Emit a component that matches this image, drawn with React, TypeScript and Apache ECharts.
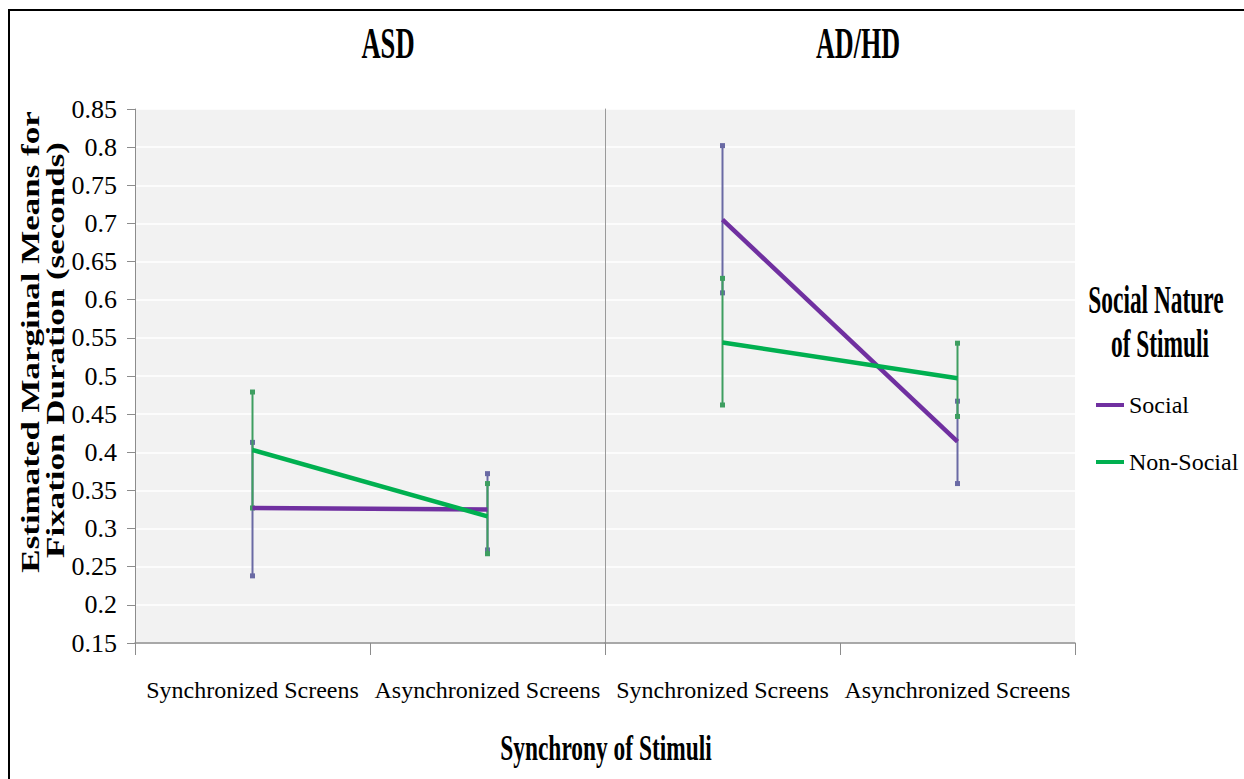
import React, { useEffect, useRef } from "react";
import * as echarts from "echarts";

// ---- data ----
const groups = ["ASD", "AD/HD"];
const conditions = ["Synchronized Screens", "Asynchronized Screens"];
const seriesNames = ["Social", "Non-Social"];
const yMin = 0.15;
const yMax = 0.85;
const yStep = 0.05;

const asdSocialMean = [0.327, 0.325];
const asdSocialLow = [0.238, 0.272];
const asdSocialHigh = [0.413, 0.372];
const asdNonSocialMean = [0.403, 0.316];
const asdNonSocialLow = [0.327, 0.267];
const asdNonSocialHigh = [0.479, 0.359];

const adhdSocialMean = [0.705, 0.414];
const adhdSocialLow = [0.609, 0.359];
const adhdSocialHigh = [0.802, 0.467];
const adhdNonSocialMean = [0.544, 0.497];
const adhdNonSocialLow = [0.462, 0.447];
const adhdNonSocialHigh = [0.628, 0.543];

// ---- styles ----
const FONT = '"Liberation Serif", "Times New Roman", serif';
const SOCIAL = "#7030A0";
const NONSOCIAL = "#00B050";
const SOCIAL_ERR = "#6A6AA4";
const NONSOCIAL_ERR = "#3E9E60";
const AXIS = "#8C8C8C";

function errData(low: number[], high: number[]) {
  return conditions.map((_, i) => [i, low[i], high[i]]);
}

function errorSeries(name: string, grid: number, low: number[], high: number[], color: string, z: number) {
  return {
    type: "custom",
    name,
    xAxisIndex: grid,
    yAxisIndex: grid,
    z,
    encode: { x: 0, y: [1, 2] },
    data: errData(low, high),
    renderItem: (params: any, api: any) => {
      const lo = api.coord([api.value(0), api.value(1)]);
      const hi = api.coord([api.value(0), api.value(2)]);
      const s = 5;
      return {
        type: "group",
        children: [
          {
            type: "line",
            shape: { x1: lo[0], y1: lo[1], x2: hi[0], y2: hi[1] },
            style: { stroke: color, lineWidth: 2 },
          },
          {
            type: "rect",
            shape: { x: hi[0] - s / 2, y: hi[1] - s / 2, width: s, height: s },
            style: { fill: color },
          },
          {
            type: "rect",
            shape: { x: lo[0] - s / 2, y: lo[1] - s / 2, width: s, height: s },
            style: { fill: color },
          },
        ],
      };
    },
  };
}

function lineSeries(name: string, grid: number, data: number[], color: string, z: number) {
  return {
    type: "line",
    name,
    xAxisIndex: grid,
    yAxisIndex: grid,
    z,
    data,
    symbol: "none",
    lineStyle: { color, width: 4.5 },
    itemStyle: { color },
  };
}

function buildOption() {
  const gridBase = { top: 109, width: 470, height: 534, show: true, backgroundColor: "#F2F2F2", borderWidth: 0 };
  const grids = [
    { ...gridBase, left: 135 },
    { ...gridBase, left: 605 },
  ];
  const xAxes = groups.map((_, i) => ({
    type: "category",
    gridIndex: i,
    data: conditions,
    boundaryGap: true,
    axisLine: { show: true, lineStyle: { color: AXIS, width: 1.5 } },
    axisTick: { show: true, length: 12, lineStyle: { color: AXIS, width: 1 } },
    axisLabel: { interval: 0, fontFamily: FONT, fontSize: 24, color: "#000", margin: 35 },
    splitLine: { show: false },
  }));
  const yAxes = groups.map((_, i) => ({
    type: "value",
    gridIndex: i,
    min: yMin,
    max: yMax,
    interval: yStep,
    axisLine: { show: true, lineStyle: { color: i === 0 ? AXIS : "#9A9A9A", width: 1 } },
    axisTick: { show: i === 0, length: 8, lineStyle: { color: AXIS } },
    axisLabel: {
      show: i === 0,
      fontFamily: FONT,
      fontSize: 26,
      color: "#000",
      margin: 18,
      formatter: (v: number) => String(+v.toFixed(2)),
    },
    splitLine: { show: true, lineStyle: { color: "#FFFFFF", width: 1.5 } },
  }));

  const series = [
    errorSeries("Social error", 0, asdSocialLow, asdSocialHigh, SOCIAL_ERR, 2),
    errorSeries("Non-Social error", 0, asdNonSocialLow, asdNonSocialHigh, NONSOCIAL_ERR, 3),
    errorSeries("Social error", 1, adhdSocialLow, adhdSocialHigh, SOCIAL_ERR, 2),
    errorSeries("Non-Social error", 1, adhdNonSocialLow, adhdNonSocialHigh, NONSOCIAL_ERR, 3),
    lineSeries(seriesNames[0], 0, asdSocialMean, SOCIAL, 4),
    lineSeries(seriesNames[1], 0, asdNonSocialMean, NONSOCIAL, 5),
    lineSeries(seriesNames[0], 1, adhdSocialMean, SOCIAL, 4),
    lineSeries(seriesNames[1], 1, adhdNonSocialMean, NONSOCIAL, 5),
  ];

  const boldText = (text: string, x: number, y: number, size: number, sx: number, extra: any = {}) => ({
    type: "text",
    x,
    y,
    scaleX: sx,
    silent: true,
    ...extra,
    style: {
      text,
      font: `bold ${size}px ${FONT}`,
      fill: "#000",
      textAlign: "center",
      textVerticalAlign: "middle",
      verticalAlign: "middle",
    },
  });

  const rotText = (text: string, x: number, y: number) => ({
    type: "text",
    x,
    y,
    rotation: Math.PI / 2,
    scaleY: 0.7,
    silent: true,
    style: {
      text,
      font: `bold 35px ${FONT}`,
      fill: "#000",
      textAlign: "center",
      textVerticalAlign: "middle",
      verticalAlign: "middle",
    },
  });

  const graphic = [
    {
      type: "rect",
      silent: true,
      shape: { x: 9, y: 10, width: 1260, height: 800 },
      style: { fill: "none", stroke: "#000", lineWidth: 2 },
    },
    boldText(groups[0], 388, 43, 45, 0.59),
    boldText(groups[1], 858, 43, 45, 0.58),
    boldText("Social Nature", 1156, 300, 39, 0.6),
    boldText("of Stimuli", 1160, 344, 39, 0.6),
    boldText("Synchrony of Stimuli", 606, 748, 36, 0.65),
    rotText("Estimated Marginal Means for", 31, 342),
    rotText("Fixation Duration (seconds)", 56, 350),
  ];

  return {
    animation: false,
    backgroundColor: "#FFFFFF",
    grid: grids,
    xAxis: xAxes,
    yAxis: yAxes,
    legend: {
      data: seriesNames,
      orient: "vertical",
      left: 1096,
      top: 393,
      padding: 0,
      itemWidth: 28,
      itemHeight: 4,
      itemGap: 33,
      icon: "rect",
      selectedMode: false,
      textStyle: { fontFamily: FONT, fontSize: 24, color: "#000" },
    },
    series,
    graphic,
  };
}

export default function App() {
  const ref = useRef<HTMLDivElement>(null);
  useEffect(() => {
    if (!ref.current) return;
    const chart = echarts.init(ref.current, null, { renderer: "svg" });
    chart.setOption(buildOption() as any);
    return () => chart.dispose();
  }, []);
  return (
    <div
      ref={ref}
      style={{ position: "absolute", left: 0, top: 0, width: 1244, height: 779 }}
    />
  );
}
